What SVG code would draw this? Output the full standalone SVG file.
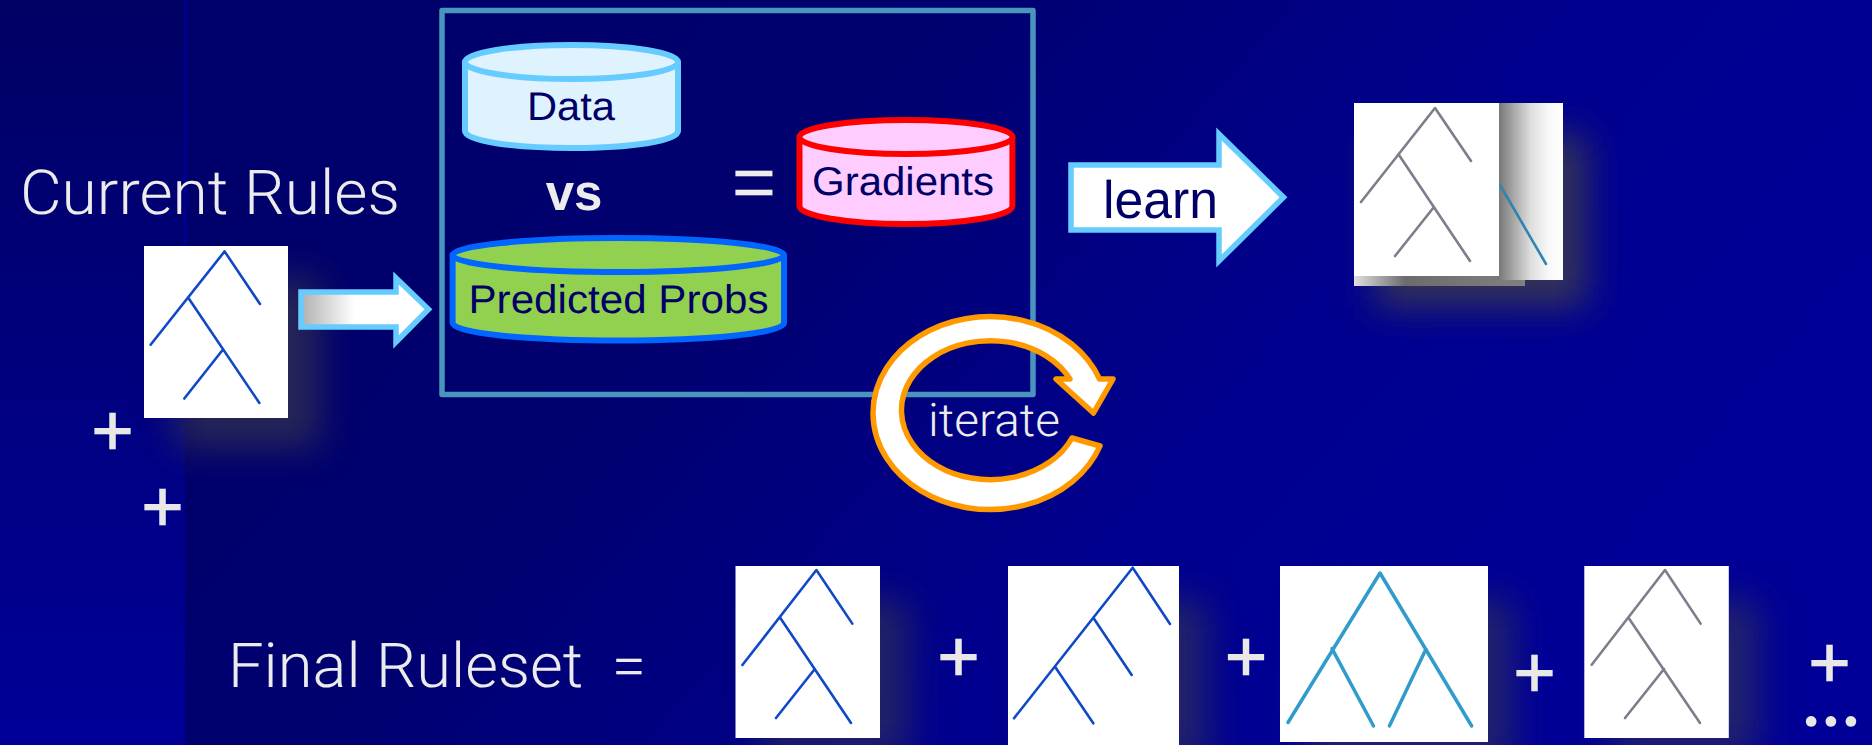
<svg xmlns="http://www.w3.org/2000/svg" width="1872" height="745" viewBox="0 0 1872 745">
<style>
text{text-rendering:geometricPrecision}
.t{font-family:"Liberation Sans",Arial,sans-serif;fill:#000066}
.l{font-family:Roboto,"Open Sans",sans-serif;font-weight:300;fill:#ececec}
.p{font-family:"Liberation Sans",Arial,sans-serif;fill:#e8e8e8;stroke:#e8e8e8;stroke-width:1.200;font-size:72px;text-anchor:middle}
.tree{fill:none;stroke-width:2.600;stroke-linecap:round;stroke-linejoin:round}
.blue{stroke:#1048c8}.gray{stroke:#7d7d8c}.teal{stroke:#2f9ccb;stroke-width:3.5}
.sh{fill:#40404a;filter:url(#b)}
.arrow{stroke:#66ccff;stroke-width:5.500}
.cyl{stroke-width:6}
</style>
<defs>
<linearGradient id="bg" x1="0" y1="0" x2="1" y2="0.35"><stop offset="0.1" stop-color="#00006a"/><stop offset="0.45" stop-color="#00006f"/><stop offset="0.75" stop-color="#00008e"/><stop offset="1" stop-color="#000096"/></linearGradient>
<linearGradient id="band" x1="0" y1="0" x2="0" y2="1"><stop offset="0" stop-color="#000064"/><stop offset="1" stop-color="#000098"/></linearGradient>
<linearGradient id="ar" x1="0" y1="0" x2="1" y2="0"><stop offset="0" stop-color="#b0b0b0"/><stop offset="0.42" stop-color="#ffffff"/></linearGradient>
<linearGradient id="sd" x1="0" y1="0" x2="1" y2="0"><stop offset="0.12" stop-color="#777777"/><stop offset="0.55" stop-color="#dddddd"/><stop offset="0.8" stop-color="#f8f8f8"/><stop offset="1" stop-color="#ffffff"/></linearGradient>
<linearGradient id="st" x1="0" y1="0" x2="1" y2="0"><stop offset="0" stop-color="#e0e0e0"/><stop offset="0.3" stop-color="#6c6c6c"/><stop offset="1" stop-color="#808080"/></linearGradient>
<filter id="b" x="-30%" y="-30%" width="160%" height="160%"><feGaussianBlur stdDeviation="18"/></filter>
</defs>
<g id="background">
<rect width="1872" height="745" fill="url(#bg)"/>
<rect width="185" height="745" fill="url(#band)"/>
<rect x="184" width="3" height="280" fill="#000090"/>
</g>
<g id="shadows">
<rect class="sh" x="175" y="278" width="145" height="170" opacity=".6"/>
<rect class="sh" x="1375" y="135" width="212" height="172" opacity=".8"/>
<rect class="sh" x="760" y="600" width="148" height="155" opacity=".55"/>
<rect class="sh" x="1035" y="600" width="172" height="165" opacity=".55"/>
<rect class="sh" x="1305" y="600" width="208" height="165" opacity=".55"/>
<rect class="sh" x="1610" y="600" width="148" height="155" opacity=".55"/>
</g>
<g id="current-rules-label"><text class="l" x="20" y="214" font-size="62" textLength="380" lengthAdjust="spacingAndGlyphs">Current Rules</text></g>
<g id="current-tree">
<rect x="144" y="246" width="144" height="172" fill="#fff"/>
<path class="tree blue" d="M260 304L224.600 251.400 150.600 344.700M188.600 298.300L259.400 403M222.600 350L184.300 398.500"/>
</g>
<g id="plus-1"><text class="p" x="112.500" y="455">+</text></g>
<g id="plus-2"><text class="p" x="162.500" y="531">+</text></g>
<g id="frame"><rect x="442" y="10.500" width="591" height="384" fill="none" stroke="#4a95bd" stroke-width="5.500" stroke-linejoin="round"/></g>
<g id="data">
<path class="cyl" fill="#dff3ff" stroke="#66ccff" d="M465 62V131C465 141 513 148 572 148S678 141 678 131V62"/>
<ellipse class="cyl" cx="571.500" cy="62" rx="106.500" ry="17" fill="#dff3ff" stroke="#66ccff"/>
<text class="t" x="571" y="120" font-size="40" text-anchor="middle" textLength="88" lengthAdjust="spacingAndGlyphs">Data</text>
</g>
<g id="vs"><text x="574" y="210" font-family="Liberation Sans,Arial,sans-serif" font-weight="700" font-size="51" fill="#ececec" text-anchor="middle">vs</text></g>
<g id="equals"><text x="754" y="208" font-family="Liberation Sans,Arial,sans-serif" font-size="76" fill="#ececec" text-anchor="middle">=</text></g>
<g id="gradients">
<path class="cyl" fill="#ffccff" stroke="#ff0000" d="M799.500 137V206C799.500 216 848 224 906 224S1012.400 216 1012.400 206V137"/>
<ellipse class="cyl" cx="906" cy="137" rx="106.500" ry="17" fill="#ffccff" stroke="#ff0000"/>
<text class="t" x="903" y="195" font-size="40" text-anchor="middle" textLength="182" lengthAdjust="spacingAndGlyphs">Gradients</text>
</g>
<g id="predicted">
<path class="cyl" fill="#92d050" stroke="#0066ff" d="M452.600 255V323C452.600 333 525 340.500 618 340.500S784 333 784 323V255"/>
<ellipse class="cyl" cx="618.300" cy="255" rx="165.700" ry="17" fill="#92d050" stroke="#0066ff"/>
<text class="t" x="618.500" y="312.600" font-size="40" text-anchor="middle" textLength="300" lengthAdjust="spacingAndGlyphs">Predicted Probs</text>
</g>
<g id="connectors">
<path class="arrow" fill="url(#ar)" d="M301 292H396V278L428.500 309.300 396 342V327H301Z"/>
<path class="arrow" fill="#fff" d="M1071 165H1219V134L1283.500 197.300 1219 261V230H1071Z"/>
</g>
<g id="learn-label"><text class="t" x="1103" y="217.600" font-size="53" textLength="115" lengthAdjust="spacingAndGlyphs">learn</text></g>
<g id="iterate">
<path fill="#fff" stroke="#ff9900" stroke-width="5.500" stroke-linejoin="round" d="M1100 446A117 96.500 0 1 1 1099.500 379H1113L1093.500 413L1056 379H1070A89 69.500 0 1 0 1072 438Z"/>
<text class="l" x="928" y="436" font-size="46" textLength="132" lengthAdjust="spacingAndGlyphs">iterate</text>
</g>
<g id="learned-trees">
<rect x="1354" y="276" width="171" height="10" fill="url(#st)"/>
<rect x="1490" y="103" width="73" height="177" fill="url(#sd)"/>
<path class="tree" stroke="#2f85ad" d="M1500 185L1546 264"/>
<rect x="1354" y="103" width="145" height="173" fill="#fff"/>
<path class="tree gray" d="M1471 161L1435 108 1361 202M1399 155L1470 261M1434 207L1395 256"/>
</g>
<g id="final-label"><text class="l" x="228" y="687" font-size="62" textLength="355" lengthAdjust="spacingAndGlyphs">Final Ruleset</text><text class="l" x="629" y="687" font-size="62" text-anchor="middle">=</text></g>
<g id="final-tree-1"><rect x="735.500" y="566" width="144.500" height="172" fill="#fff"/><path class="tree blue" d="M852.300 623.600L816.400 570 742.400 665M780 617.600L851 723M814.800 669L776 718"/></g>
<g id="plus-3"><text class="p" x="958.500" y="681">+</text></g>
<g id="final-tree-2"><rect x="1008" y="566" width="171" height="179" fill="#fff"/><path class="tree blue" d="M1170 624L1132.700 567.700 1014 718.300M1093.300 617.700L1131.700 675M1055 666.700L1093.300 723.300"/></g>
<g id="plus-4"><text class="p" x="1246" y="681">+</text></g>
<g id="final-tree-3"><rect x="1280" y="566" width="208" height="176" fill="#fff"/><path class="tree teal" d="M1288 722.500L1380 573 1471.700 726M1332 648.600L1373.500 726M1426 649L1389.400 726"/></g>
<g id="plus-5"><text class="p" x="1534.400" y="697">+</text></g>
<g id="final-tree-4"><rect x="1584.300" y="566" width="144.500" height="172" fill="#fff"/><path class="tree gray" d="M1700.600 623.600L1665 570 1591.700 664.700M1628.300 617.600L1700 723M1664 669L1625 718"/></g>
<g id="plus-6"><text class="p" x="1829.600" y="687">+</text></g>
<g id="ellipsis"><text font-family="Lato,sans-serif" font-size="84" fill="#e8e8e8" text-anchor="middle" transform="translate(1831 726)">...</text></g>
</svg>
